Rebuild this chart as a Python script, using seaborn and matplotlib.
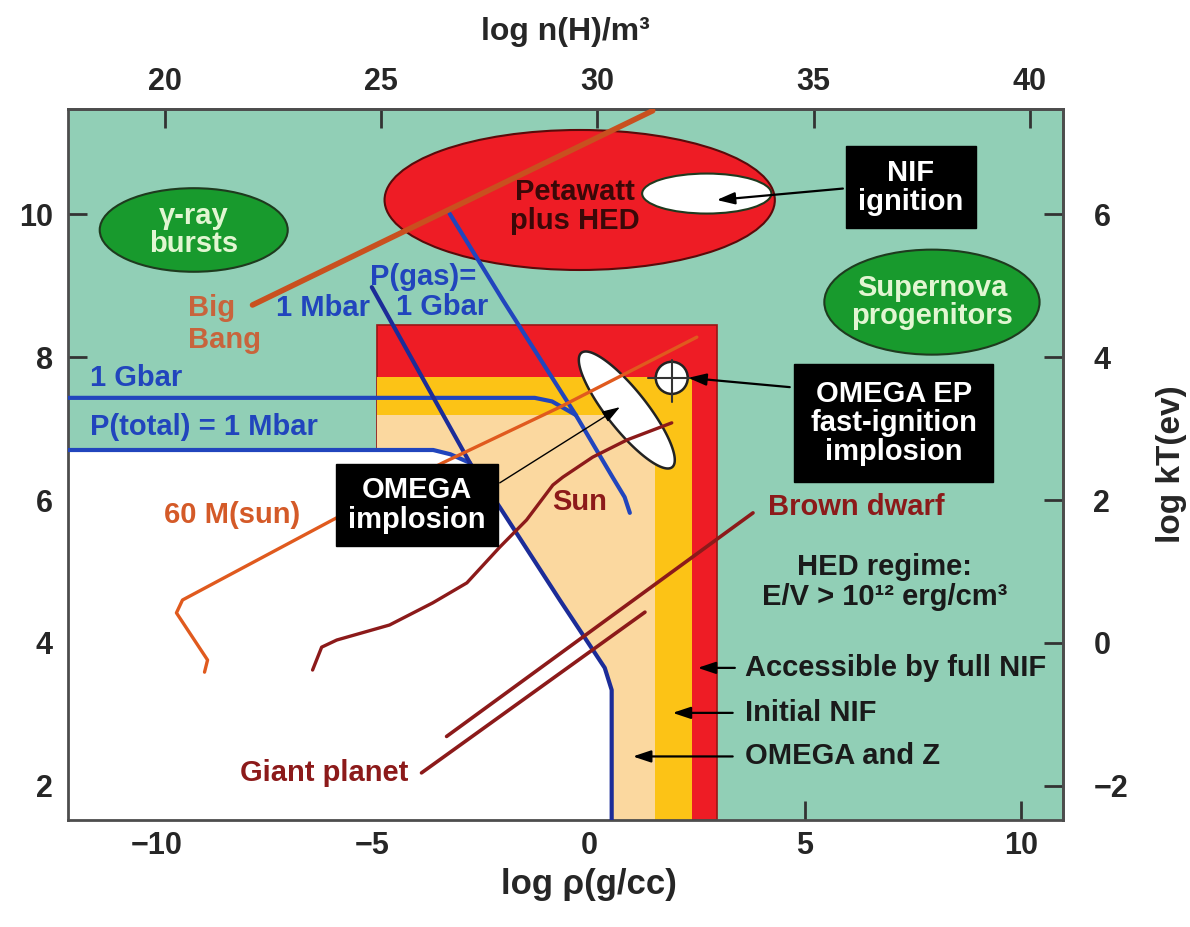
import matplotlib
matplotlib.use("Agg")
import matplotlib.pyplot as plt
import numpy as np
import seaborn as sns
from matplotlib.patches import Ellipse, Rectangle, Polygon

# axis ranges (log rho in g/cc, log T in K)
x_range = (-12.05, 10.97)
y_range = (1.52, 11.48)
n_offset = 29.8    # log n(H)/m^3 = log rho + n_offset
kt_offset = 4.0    # log kT(eV) = log T - kt_offset

bottom_ticks = [-10, -5, 0, 5, 10]
top_ticks = [20, 25, 30, 35, 40]
left_ticks = [2, 4, 6, 8, 10]
right_ticks = [-2, 0, 2, 4, 6]

# accessible regions: right edge (log rho), top edge (log T)
region_left = -4.9
full_nif = (2.96, 8.45)
initial_nif = (2.38, 7.72)
omega_z = (1.53, 7.19)

# pressure contours
gbar_tot_x = [-12.05, -1.25, -0.85, -0.30]
gbar_tot_y = [7.43, 7.43, 7.38, 7.19]
pgas_gbar_x = [-3.22, -1.99, -0.30, 0.56, 0.83, 0.95]
pgas_gbar_y = [10.01, 8.80, 7.19, 6.31, 6.04, 5.82]
ptot_mbar_x = [-12.05, -3.6, -3.2, -2.75]
ptot_mbar_y = [6.70, 6.70, 6.64, 6.52]
pgas_mbar_x = [-5.02, -2.75, -2.06, -0.67, 0.37, 0.53, 0.53]
pgas_mbar_y = [8.98, 6.52, 5.90, 4.60, 3.65, 3.34, 1.52]

# object tracks
big_bang_x = [-7.78, 1.48]
big_bang_y = [8.73, 11.45]
m60_x = [-8.89, -8.82, -9.54, -9.40, -5.93, -3.38, -0.67, 2.50]
m60_y = [3.59, 3.76, 4.42, 4.60, 5.72, 6.52, 7.30, 8.28]
sun_x = [-6.39, -6.18, -5.83, -4.61, -3.61, -2.82, -2.06, -1.44, -0.83, -0.60, 0.09, 0.88, 1.92]
sun_y = [3.62, 3.94, 4.04, 4.25, 4.56, 4.84, 5.34, 5.72, 6.21, 6.32, 6.60, 6.84, 7.08]
brown_dwarf_x = [-3.29, 3.80]
brown_dwarf_y = [2.69, 5.82]
giant_x = [-3.87, 1.30]
giant_y = [2.18, 4.43]

# ellipses: center x, center y, width, height
petawatt = (-0.21, 10.20, 9.03, 1.96)
nif_ign = (2.73, 10.29, 2.99, 0.56)
grb = (-9.14, 9.78, 4.35, 1.17)
supernova = (7.94, 8.77, 4.98, 1.47)
ep_center = (0.88, 7.26)
ep_major = (1.05, -0.80)
ep_minor = (0.36, 0.175)
cross_center = (1.92, 7.71)

RED = '#ee1c25'
YELLOW = '#fcc316'
PEACH = '#fbd89f'
GREEN_BG = '#91cfb6'
BLUE = '#2145bd'
NAVY = '#1c2c98'
DARKRED = '#8c1a1a'

sns.set_theme(style="ticks")
plt.rcParams['font.family'] = ['Liberation Sans', 'DejaVu Sans']
plt.rcParams['font.weight'] = 'bold'
plt.rcParams['axes.labelweight'] = 'bold'

fig = plt.figure(figsize=(11.9, 9.27), dpi=100)
ax = fig.add_axes([0.0571, 0.1154, 0.8361, 0.7675])
ax.set_facecolor(GREEN_BG)
ax.set_xlim(*x_range)
ax.set_ylim(*y_range)

# nested rectangles of accessible regimes
for (xr, yt), col in [(full_nif, RED), (initial_nif, YELLOW), (omega_z, PEACH)]:
    ax.add_patch(Rectangle((region_left, y_range[0]), xr - region_left, yt - y_range[0],
                           fc=col, ec='#9a1515' if col == RED else 'none', lw=1.2, zorder=0.5))

# white region below P(total) = 1 Mbar
wx = [x_range[0]] + ptot_mbar_x + pgas_mbar_x[2:]
wy = [y_range[0]] + ptot_mbar_y + pgas_mbar_y[2:]
ax.add_patch(Polygon(np.column_stack([wx, wy]), closed=True, fc='white', ec='none', zorder=0.6))

for (cx, cy, w, h), fc in [(petawatt, RED), (nif_ign, 'white'), (grb, '#189a2d'), (supernova, '#189a2d')]:
    ax.add_patch(Ellipse((cx, cy), w, h, fc=fc, ec='#1e3a1e' if fc != RED else '#5a0a0a',
                         lw=1.5, zorder=0.8))

# tilted OMEGA EP ellipse
t = np.linspace(0, 2 * np.pi, 200)
ex = ep_center[0] + ep_major[0] * np.cos(t) + ep_minor[0] * np.sin(t)
ey = ep_center[1] + ep_major[1] * np.cos(t) + ep_minor[1] * np.sin(t)
ax.add_patch(Polygon(np.column_stack([ex, ey]), closed=True, fc='white', ec='#222222', lw=1.8, zorder=1.0))

# lines
line_specs = [
    (gbar_tot_x, gbar_tot_y, BLUE, 3.0),
    (pgas_gbar_x, pgas_gbar_y, BLUE, 3.0),
    (ptot_mbar_x, ptot_mbar_y, BLUE, 3.0),
    (pgas_mbar_x, pgas_mbar_y, NAVY, 3.0),
    (big_bang_x, big_bang_y, '#c9501f', 4.0),
    (m60_x, m60_y, '#e05a1e', 2.4),
    (sun_x, sun_y, DARKRED, 2.4),
    (brown_dwarf_x, brown_dwarf_y, DARKRED, 2.6),
    (giant_x, giant_y, DARKRED, 2.6),
]
for lx, ly, col, lw in line_specs:
    sns.lineplot(x=lx, y=ly, sort=False, estimator=None, color=col, lw=lw,
                 zorder=3, ax=ax, legend=False)

# crosshair target
ax.add_patch(Ellipse(cross_center, 0.74, 0.45, fc='white', ec='#222222', lw=1.8, zorder=4))
ax.plot([cross_center[0] - 0.55, cross_center[0] + 0.45], [cross_center[1]] * 2,
        color='#333333', lw=1.5, zorder=4.1)
ax.plot([cross_center[0]] * 2, [cross_center[1] - 0.34, cross_center[1] + 0.25],
        color='#333333', lw=1.5, zorder=4.1)

# labels inside plot
FS = 21
box = dict(boxstyle='square,pad=0.42', fc='black', ec='black')
ax.text(7.45, 10.38, 'NIF\nignition', color='white', fontsize=FS, ha='center', va='center',
        linespacing=1.05, bbox=box, zorder=6)
ax.text(7.06, 7.08, 'OMEGA EP\nfast-ignition\nimplosion', color='white', fontsize=FS,
        ha='center', va='center', linespacing=1.05,
        bbox=dict(boxstyle='square,pad=0.55', fc='black', ec='black'), zorder=6)
ax.text(-3.98, 5.93, 'OMEGA\nimplosion', color='white', fontsize=FS, ha='center', va='center',
        linespacing=1.05, bbox=box, zorder=6)

ax.text(-0.32, 10.11, 'Petawatt\nplus HED', color='#3a0808', fontsize=FS, ha='center',
        va='center', linespacing=1.05, zorder=5)
ax.text(grb[0], grb[1], 'γ-ray\nbursts', color='#e2f6d2', fontsize=FS, ha='center',
        va='center', linespacing=1.0, zorder=5)
ax.text(supernova[0], supernova[1], 'Supernova\nprogenitors', color='#e2f6d2', fontsize=FS,
        ha='center', va='center', linespacing=1.0, zorder=5)

ax.text(-9.28, 8.69, 'Big', color='#c8643c', fontsize=FS, ha='left', va='center', zorder=5)
ax.text(-9.28, 8.24, 'Bang', color='#c8643c', fontsize=FS, ha='left', va='center', zorder=5)
ax.text(-6.16, 8.69, '1 Mbar', color=BLUE, fontsize=FS, ha='center', va='center', zorder=5)
ax.text(-3.84, 9.12, 'P(gas)=', color=BLUE, fontsize=FS, ha='center', va='center', zorder=5)
ax.text(-3.40, 8.70, '1 Gbar', color=BLUE, fontsize=FS, ha='center', va='center', zorder=5)
ax.text(-11.55, 7.71, '1 Gbar', color=BLUE, fontsize=FS, ha='left', va='center', zorder=5)
ax.text(-11.55, 7.02, 'P(total) = 1 Mbar', color=BLUE, fontsize=FS, ha='left', va='center', zorder=5)
ax.text(-8.26, 5.79, '60 M(sun)', color='#d45a28', fontsize=FS, ha='center', va='center', zorder=5)
ax.text(-0.21, 5.97, 'Sun', color=DARKRED, fontsize=FS, ha='center', va='center', zorder=5)
ax.text(4.14, 5.90, 'Brown dwarf', color=DARKRED, fontsize=FS, ha='left', va='center', zorder=5)
ax.text(-6.11, 2.18, 'Giant planet', color=DARKRED, fontsize=FS, ha='center', va='center', zorder=5)
ax.text(6.85, 5.06, 'HED regime:', color='#1a1a1a', fontsize=FS, ha='center', va='center', zorder=5)
ax.text(6.85, 4.64, 'E/V > 10¹² erg/cm³', color='#1a1a1a', fontsize=FS, ha='center', va='center', zorder=5)

arrow = dict(arrowstyle='-|>,head_length=0.9,head_width=0.3', color='black', lw=1.6,
             shrinkA=0, shrinkB=0)
for label, yv, tip, tail in [('Accessible by full NIF', 3.65, 2.52, 3.38),
                             ('Initial NIF', 3.02, 1.94, 3.33),
                             ('OMEGA and Z', 2.41, 1.02, 3.33)]:
    ax.text(3.61, yv, label, color='#1a1a1a', fontsize=FS, ha='left', va='center', zorder=5)
    ax.annotate('', xy=(tip, yv), xytext=(tail, yv), arrowprops=arrow, zorder=6)

ax.annotate('', xy=(2.96, 10.20), xytext=(5.88, 10.36), arrowprops=arrow, zorder=6)
ax.annotate('', xy=(2.30, 7.71), xytext=(4.65, 7.58), arrowprops=arrow, zorder=6)
ax.annotate('', xy=(0.72, 7.30), xytext=(-2.06, 6.24),
            arrowprops=dict(arrow, lw=1.0), zorder=6)

# axes styling
TFS = 22
for sp in ax.spines.values():
    sp.set_visible(True)
    sp.set_color('#4d4d4d')
    sp.set_linewidth(2)
ax.set_xticks(bottom_ticks)
ax.set_yticks(left_ticks)
ax.set_xticklabels(['−10', '−5', '0', '5', '10'])
ax.tick_params(axis='x', direction='in', length=14, width=2, color='#333333', labelsize=TFS,
               pad=8, bottom=True, top=False)
ax.tick_params(axis='y', direction='in', length=14, width=2, color='#333333', labelsize=TFS,
               pad=11, left=True, right=False)
ax.set_xlabel('log ρ(g/cc)', fontsize=25, labelpad=6)
ax.xaxis.set_label_coords(0.524, -0.068)

secx = ax.secondary_xaxis('top', functions=(lambda v: v + n_offset, lambda v: v - n_offset))
secx.set_xticks(top_ticks)
secx.tick_params(direction='in', length=14, width=2, color='#333333', labelsize=TFS, pad=8)
secx.set_xlabel('log n(H)/m³', fontsize=23, labelpad=20)

secy = ax.secondary_yaxis('right', functions=(lambda v: v - kt_offset, lambda v: v + kt_offset))
secy.set_yticks(right_ticks)
secy.set_yticklabels(['−2', '0', '2', '4', '6'])
secy.tick_params(direction='in', length=14, width=2, color='#333333', labelsize=TFS, pad=22)
secy.set_ylabel('log kT(ev)', fontsize=24, labelpad=20)
for sa in (secx, secy):
    for sp in sa.spines.values():
        sp.set_color('#4d4d4d')
        sp.set_linewidth(2)

fig.savefig('out.png', dpi=100)
